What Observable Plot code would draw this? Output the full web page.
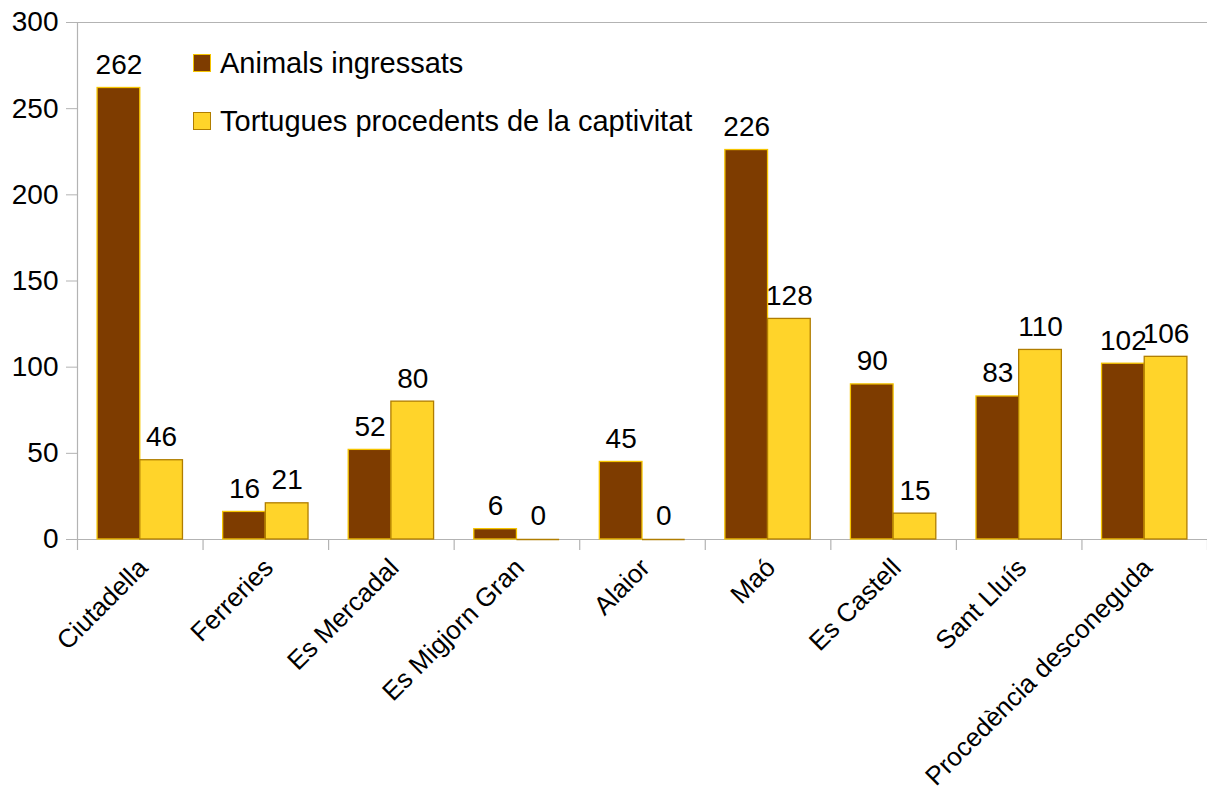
<!DOCTYPE html>
<html>
<head>
<meta charset="utf-8">
<script src="https://cdn.jsdelivr.net/npm/d3@7"></script>
<script src="https://cdn.jsdelivr.net/npm/@observablehq/plot@0.6"></script>
<style>
  html, body { margin: 0; padding: 0; background: #fff; }
  #wrap { position: relative; width: 1207px; height: 793px; font-family: "Liberation Sans", Arial, sans-serif; }
  .legend { position: absolute; left: 193px; font-size: 29px; line-height: 32px; color: #000; display: flex; align-items: center; }
  .legend .sw { width: 16px; height: 16px; margin-right: 9px; box-sizing: content-box; }
</style>
</head>
<body>
<div id="wrap"></div>
<script>
const categories = ["Ciutadella", "Ferreries", "Es Mercadal", "Es Migjorn Gran", "Alaior", "Maó", "Es Castell", "Sant Lluís", "Procedència desconeguda"];
const animalsIngressats = [262, 16, 52, 6, 45, 226, 90, 83, 102];
const tortuguesCaptivitat = [46, 21, 80, 0, 0, 128, 15, 110, 106];
const seriesNames = ["Animals ingressats", "Tortugues procedents de la captivitat"];
const yTicks = [0, 50, 100, 150, 200, 250, 300];

const fills = ["#7e3c00", "#ffd42a"];
const strokes = ["#f5c400", "#b07d00"];

const rows = [];
categories.forEach((c, i) => {
  rows.push({cat: c, i, s: 0, v: animalsIngressats[i]});
  rows.push({cat: c, i, s: 1, v: tortuguesCaptivitat[i]});
});
const n = categories.length;
const pad = 0.16;
const half = (1 - 2 * pad) / 2;
const bounds = d3.range(n + 1);
const catRows = categories.map((c, i) => ({cat: c, i}));
const bx1 = d => d.i + pad + d.s * half;
const bx2 = d => d.i + pad + (d.s + 1) * half;

const chart = Plot.plot({
  width: 1207,
  height: 793,
  marginLeft: 77,
  marginRight: 0,
  marginTop: 22,
  marginBottom: 254,
  style: {fontFamily: "Liberation Sans, Arial, sans-serif", fontSize: "28px", color: "#000", background: "#fff"},
  x: {type: "linear", domain: [0, n], axis: null},
  y: {type: "linear", domain: [0, 300], axis: null},
  marks: [
    Plot.ruleY([300], {x1: () => 0, x2: () => n, stroke: "#b3b3b3", strokeWidth: 1.2}),
    Plot.axisY({ticks: yTicks, tickSize: 11, tickPadding: 8, stroke: "#b3b3b3", fontSize: 28, color: "#000", label: null, tickFormat: d => d}),
    Plot.ruleX([0], {y1: () => 0, y2: () => 300, stroke: "#b3b3b3", strokeWidth: 1.2}),
    Plot.ruleX(bounds, {x: d => d, y1: () => 0, y2: () => -6.4, stroke: "#b3b3b3", strokeWidth: 1.2, clip: false}),
    Plot.ruleY([0], {x1: () => 0, x2: () => n, stroke: "#b3b3b3", strokeWidth: 1.2, dx: -11}),
    Plot.ruleY([0], {x1: () => 0, x2: () => n, stroke: "#b3b3b3", strokeWidth: 1.2}),
    Plot.rectY(rows, {
      x1: bx1, x2: bx2, y1: () => 0, y2: "v",
      fill: d => fills[d.s], stroke: d => strokes[d.s], strokeWidth: 1.3
    }),
    Plot.ruleY(rows.filter(d => d.v === 0), {x1: bx1, x2: bx2, y: "v", stroke: d => strokes[d.s], strokeWidth: 1.6}),
    Plot.text(rows, {x: d => d.i + pad + (d.s + 0.5) * half, y: "v", text: d => String(d.v), dy: -23, fontSize: 28, fill: "#000"}),
    Plot.text(catRows, {x: d => d.i + 0.5, y: () => 0, text: "cat", rotate: -45, textAnchor: "end", dx: 3, dy: 24, fontSize: 26, fill: "#000"})
  ]
});
const wrap = document.getElementById("wrap");
wrap.appendChild(chart);
seriesNames.forEach((name, k) => {
  const el = document.createElement("div");
  el.className = "legend";
  el.style.top = (k === 0 ? 47 : 105) + "px";
  el.innerHTML = `<span class="sw" style="background:${fills[k]};border:1px solid ${strokes[k]}"></span><span>${name}</span>`;
  wrap.appendChild(el);
});
</script>
</body>
</html>
